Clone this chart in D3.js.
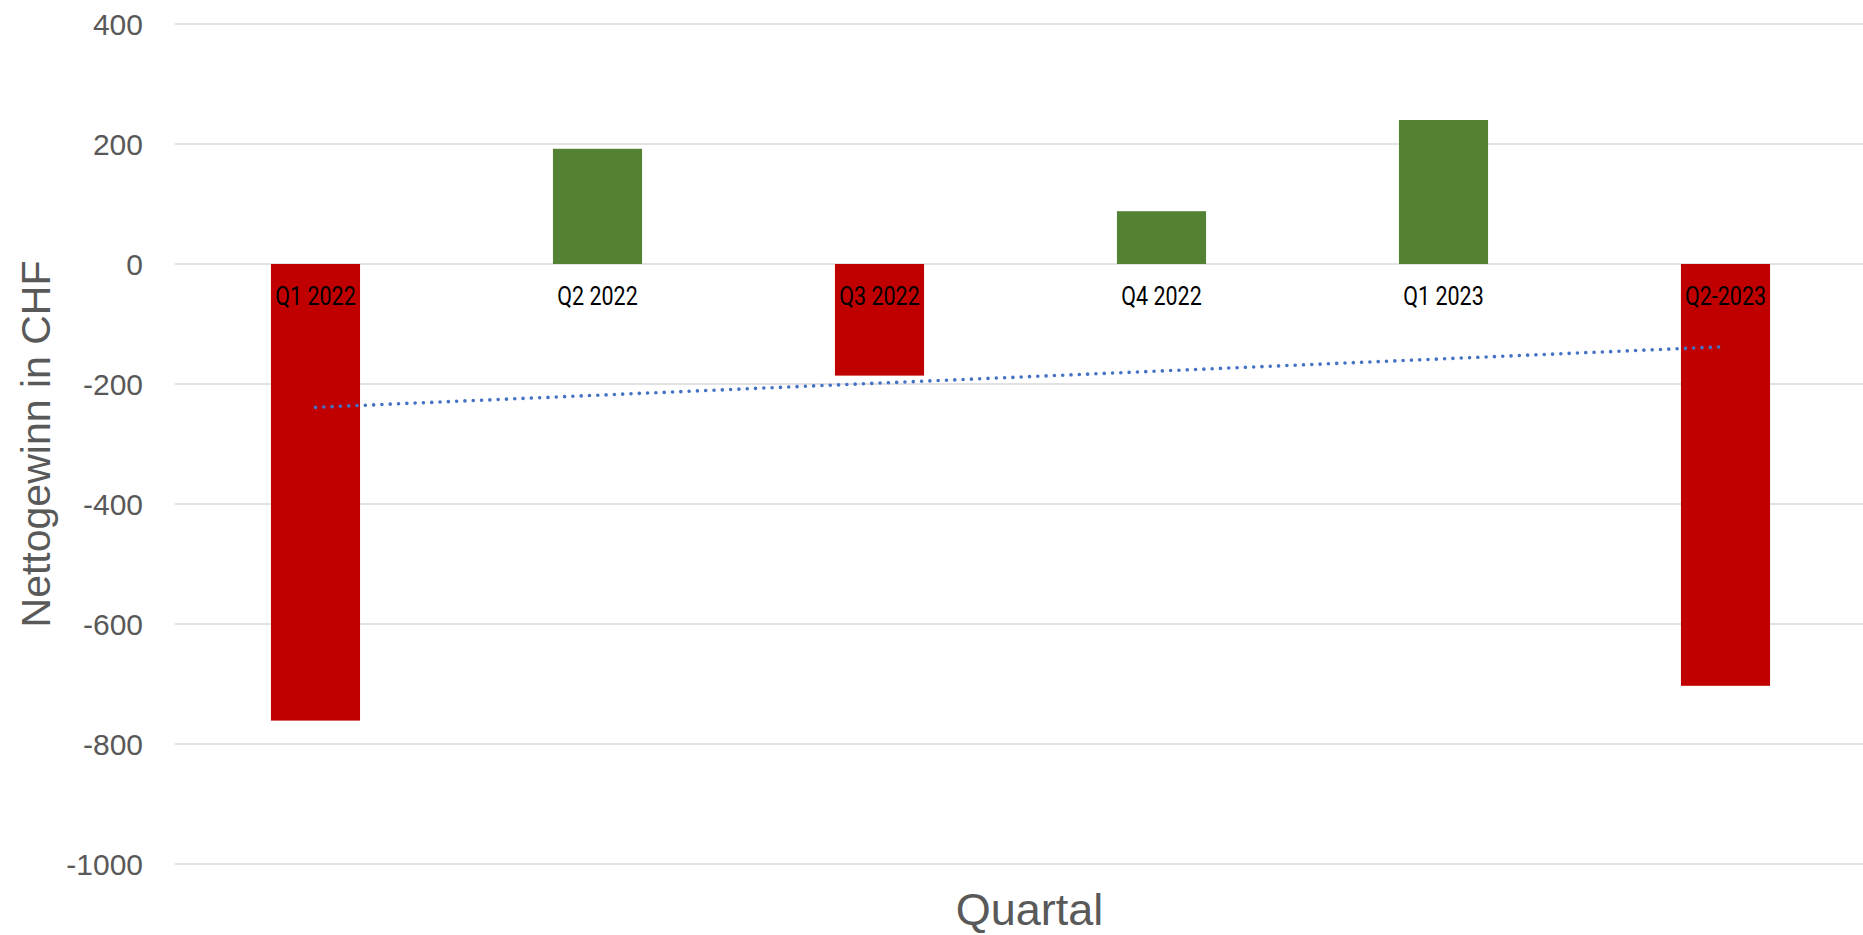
<!DOCTYPE html>
<html>
<head>
<meta charset="utf-8">
<script src="https://cdn.jsdelivr.net/npm/d3@7"></script>
<style>
  html, body { margin: 0; padding: 0; background: #ffffff; }
  svg { display: block; }
</style>
</head>
<body>
<svg id="chart" width="1863" height="935"></svg>
<script>
// ---- data ----
const categories = ["Q1 2022", "Q2 2022", "Q3 2022", "Q4 2022", "Q1 2023", "Q2-2023"];
const netProfit = [-761, 192, -186, 88, 240, -703];
const yTicks = [400, 200, 0, -200, -400, -600, -800, -1000];
const yTitle = "Nettogewinn in CHF";
const xTitle = "Quartal";

// ---- layout ----
const W = 1863, H = 935;
const plot = { left: 174.5, right: 1866.5, top: 24, bottom: 864 };

const svg = d3.select("#chart");

const x = d3.scaleBand()
  .domain(categories)
  .range([plot.left, plot.right])
  .paddingInner(0.684)
  .paddingOuter(0.342);

const y = d3.scaleLinear()
  .domain([-1000, 400])
  .range([plot.bottom, plot.top]);

// gridlines
svg.append("g")
  .selectAll("line")
  .data(yTicks)
  .join("line")
  .attr("x1", 175)
  .attr("x2", W)
  .attr("y1", d => y(d))
  .attr("y2", d => y(d))
  .attr("stroke", "#d9d9d9")
  .attr("stroke-width", 1.5);

// y tick labels
svg.append("g")
  .selectAll("text")
  .data(yTicks)
  .join("text")
  .attr("x", 143)
  .attr("y", d => y(d))
  .attr("text-anchor", "end")
  .attr("dominant-baseline", "central")
  .attr("font-family", "'Liberation Sans', Arial, sans-serif")
  .attr("font-size", 30)
  .attr("fill", "#595959")
  .text(d => d);

// bars
svg.append("g")
  .selectAll("rect")
  .data(categories.map((c, i) => ({ c, v: netProfit[i] })))
  .join("rect")
  .attr("x", d => x(d.c))
  .attr("width", x.bandwidth())
  .attr("y", d => y(Math.max(0, d.v)))
  .attr("height", d => Math.abs(y(d.v) - y(0)))
  .attr("fill", d => d.v < 0 ? "#C00000" : "#548235");

// linear trendline (least squares over the series)
const n = netProfit.length;
const xs = d3.range(1, n + 1);
const mx = d3.mean(xs), my = d3.mean(netProfit);
const slope = d3.sum(xs.map((xi, i) => (xi - mx) * (netProfit[i] - my))) /
              d3.sum(xs.map(xi => (xi - mx) * (xi - mx)));
const intercept = my - slope * mx;
const trendPts = [0, n - 1].map(i => ({ c: categories[i], v: intercept + slope * xs[i] }));

svg.append("path")
  .datum(trendPts)
  .attr("d", d3.line().x(d => x(d.c) + x.bandwidth() / 2).y(d => y(d.v)))
  .attr("fill", "none")
  .attr("stroke", "#4472C4")
  .attr("stroke-width", 3.6)
  .attr("stroke-linecap", "round")
  .attr("stroke-dasharray", "0.01 8.3");

// category labels (next to axis, inside plot)
svg.append("g")
  .selectAll("text")
  .data(categories)
  .join("text")
  .attr("transform", d => `translate(${x(d) + x.bandwidth() / 2}, ${y(0) + 41}) scale(0.86, 1)`)
  .attr("text-anchor", "middle")
  .attr("font-family", "Roboto, 'DejaVu Sans Condensed', sans-serif")
  .attr("font-size", 25)
  .attr("fill", "#000000")
  .text(d => d);

// axis titles
svg.append("text")
  .attr("transform", `translate(50, ${(plot.top + plot.bottom) / 2}) rotate(-90)`)
  .attr("text-anchor", "middle")
  .attr("font-family", "'Liberation Sans', Arial, sans-serif")
  .attr("font-size", 41)
  .attr("fill", "#595959")
  .text(yTitle);

svg.append("text")
  .attr("x", 1029.5)
  .attr("y", 925)
  .attr("text-anchor", "middle")
  .attr("font-family", "'Liberation Sans', Arial, sans-serif")
  .attr("font-size", 45)
  .attr("fill", "#595959")
  .text(xTitle);
</script>
</body>
</html>
